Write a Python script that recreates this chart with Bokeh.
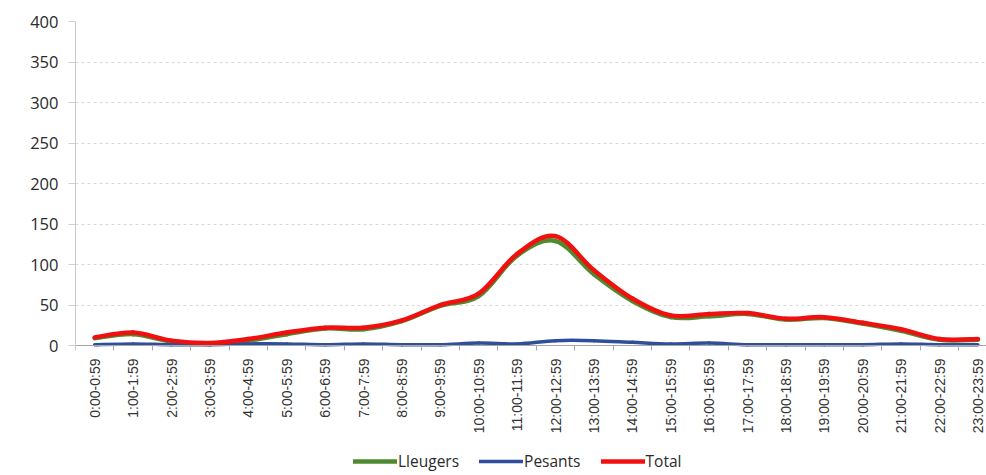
import numpy as np
from bokeh.plotting import figure
from bokeh.models import Range1d, FixedTicker, ColumnDataSource, Legend, LegendItem
from bokeh.embed import file_html
from bokeh.resources import INLINE

categories = ["0:00-0:59", "1:00-1:59", "2:00-2:59", "3:00-3:59", "4:00-4:59",
              "5:00-5:59", "6:00-6:59", "7:00-7:59", "8:00-8:59", "9:00-9:59",
              "10:00-10:59", "11:00-11:59", "12:00-12:59", "13:00-13:59",
              "14:00-14:59", "15:00-15:59", "16:00-16:59", "17:00-17:59",
              "18:00-18:59", "19:00-19:59", "20:00-20:59", "21:00-21:59",
              "22:00-22:59", "23:00-23:59"]
total = [10, 16, 6, 3, 8, 16, 22, 22, 31, 50, 64, 113, 135, 93, 58, 37, 39, 40,
         33, 35, 28, 20, 8, 8]
pesants = [1, 2, 1, 1, 2, 2, 1, 2, 1, 1, 3, 2, 6, 6, 4, 2, 3, 1, 1, 1, 1, 2, 1, 1]
lleugers = [9, 14, 5, 2, 6, 14, 21, 20, 30, 49, 61, 111, 129, 88, 55, 35, 36, 39,
            32, 34, 27, 18, 7, 7]
y_ticks = [0, 50, 100, 150, 200, 250, 300, 350, 400]

series_names = ["Lleugers", "Pesants", "Total"]
series_values = [lleugers, pesants, total]
series_colors = ["#4e8a2e", "#2f4f9c", "#f01010"]
series_widths = [4.5, 3.5, 4.5]


def smooth_source(values):
    """Bezier segments (Excel-like smoothing) through the data points."""
    y = np.asarray(values, dtype=float)
    x = np.arange(len(y), dtype=float)
    xp = np.concatenate([[x[0]], x, [x[-1]]])
    yp = np.concatenate([[y[0]], y, [y[-1]]])
    n = len(y)
    px, cx, nx, nnx = xp[0:n - 1], xp[1:n], xp[2:n + 1], xp[3:n + 2]
    py, cy, ny, nny = yp[0:n - 1], yp[1:n], yp[2:n + 1], yp[3:n + 2]
    return ColumnDataSource(dict(
        x0=cx, y0=cy, x1=nx, y1=ny,
        cx0=cx + (nx - px) / 6.0, cy0=cy + (ny - py) / 6.0,
        cx1=nx - (nnx - cx) / 6.0, cy1=ny - (nny - cy) / 6.0,
    ))


W, H = 986, 475
left, top = 75, 21
spacing = 38.4            # px per category
y_px = 324 / 400          # px per unit on the value axis
y_zero_px = 345           # page y of value 0
frame_w = W - left
y_min = -(H - y_zero_px) / y_px
p = figure(width=W, height=H, output_backend="svg", toolbar_location=None,
           x_range=Range1d(-0.5, -0.5 + frame_w / spacing),
           y_range=Range1d(y_min, max(y_ticks)),
           min_border_left=left, min_border_right=0, min_border_top=top,
           min_border_bottom=0)
p.outline_line_color = None
p.background_fill_color = "white"
p.border_fill_color = "white"

# axes
xa = p.xaxis[0]
xa.fixed_location = 0
xa.ticker = FixedTicker(ticks=list(range(len(categories))),
                        minor_ticks=[i - 0.5 for i in range(len(categories) + 1)])
xa.major_label_overrides = {i: c for i, c in enumerate(categories)}
xa.major_label_orientation = np.pi / 2
xa.major_label_text_font = "Liberation Sans"
xa.major_label_text_font_size = "14px"
xa.major_label_text_color = "#333333"
xa.major_label_standoff = 8
xa.major_tick_line_color = None
xa.major_tick_out = 0
xa.major_tick_in = 0
xa.minor_tick_line_color = "#a6a6a6"
xa.minor_tick_out = 5
xa.minor_tick_in = 0
xa.axis_line_color = "#a6a6a6"

ya = p.yaxis[0]
ya.bounds = (0, max(y_ticks))
ya.ticker = FixedTicker(ticks=y_ticks)
ya.major_label_text_font = "Open Sans"
ya.major_label_text_font_size = "16.5px"
ya.major_label_text_color = "#2b2b2b"
ya.major_label_standoff = 10
ya.major_tick_out = 7
ya.major_tick_in = 0
ya.major_tick_line_color = "#d0d0d0"
ya.minor_tick_line_color = None
ya.axis_line_color = "#c8c8c8"

p.xgrid.grid_line_color = None
p.ygrid.grid_line_color = "#d9d9d9"
p.ygrid.grid_line_dash = "3 3"

items = []
for name, vals, col, w in zip(series_names, series_values, series_colors, series_widths):
    r = p.bezier(x0="x0", y0="y0", x1="x1", y1="y1", cx0="cx0", cy0="cy0",
                 cx1="cx1", cy1="cy1", source=smooth_source(vals),
                 line_color=col, line_width=w, line_cap="round", line_join="round")
    items.append(LegendItem(label=name, renderers=[r]))

legend = Legend(items=items, orientation="horizontal", location=(278, 3),
                border_line_color=None, background_fill_alpha=0,
                padding=0, margin=0, spacing=20, label_standoff=1,
                glyph_width=44, glyph_height=16, label_height=16,
                label_text_font="Open Sans", label_text_font_size="15.5px",
                label_text_color="#2b2b2b")
p.add_layout(legend)

open("out.html", "w").write(file_html(p, INLINE))
